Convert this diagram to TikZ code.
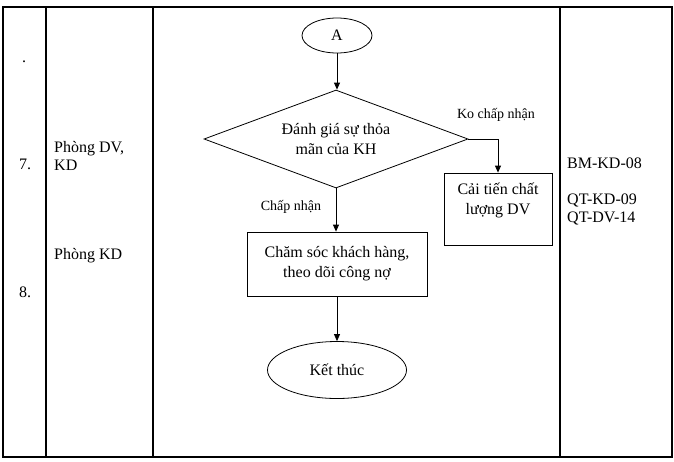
\documentclass[tikz,border=0pt]{standalone}
\usepackage{fontspec}
\setmainfont{Liberation Serif}
\usetikzlibrary{shapes.geometric,arrows.meta}
\begin{document}
\begin{tikzpicture}[x=1pt,y=-1pt,
  grid/.style={line width=1.8pt},
  shp/.style={draw,line width=0.8pt,inner sep=0pt,align=center,font=\fontsize{16}{20}\selectfont},
  arr/.style={line width=0.8pt,-{Triangle[length=7pt,width=6pt]}},
  lbl/.style={font=\fontsize{14}{17}\selectfont,inner sep=0pt},
  cell/.style={font=\fontsize{16}{18}\selectfont,inner sep=0pt,align=left,anchor=west}]
\useasboundingbox (0,0) rectangle (674,461);
% table
\draw[grid] (3,7) rectangle (672,457);
\draw[grid] (46,7) -- (46,457);
\draw[grid] (153,7) -- (153,457);
\draw[grid] (560,7) -- (560,457);
% cell texts
\node[cell] (dot) at (22,62) {.};
\node[cell] (n7) at (19,164) {7.};
\node[cell] (n8) at (19,292) {8.};
\node[cell] (p7) at (54,156) {Phòng DV,\\KD};
\node[cell] (p8) at (54,256) {Phòng KD};
\node[cell] (bm) at (567,163) {BM-KD-08};
\node[cell] (qt) at (567,209) {QT-KD-09\\QT-DV-14};
% flowchart
\node[shp,ellipse,minimum width=70pt,minimum height=35pt] (a) at (337,35.5) {A};
\node[shp,diamond,shape aspect=2.7,minimum width=264pt,minimum height=98pt] (d) at (336,139) {Đánh giá sự thỏa\\mãn của KH};
\node[shp,rectangle,minimum width=108pt,minimum height=72pt] (c) at (498,209) {Cải tiến chất\\lượng DV\\\mbox{}};
\node[shp,rectangle,minimum width=180pt,minimum height=64pt] (b) at (337,264) {Chăm sóc khách hàng,\\theo dõi công nợ};
\node[shp,ellipse,minimum width=139pt,minimum height=57pt] (e) at (337,370) {Kết thúc};
\draw[arr] (a.south) -- (a.south |- d.north);
\draw[arr] (d.east) -| (c.north);
\draw[arr] (d.south) -- (d.south |- b.north);
\draw[arr] (b.south) -- (b.south |- e.north);
\node[lbl] (ko) at (496,115) {Ko chấp nhận};
\node[lbl] (cn) at (291,207) {Chấp nhận};
\end{tikzpicture}
\end{document}
